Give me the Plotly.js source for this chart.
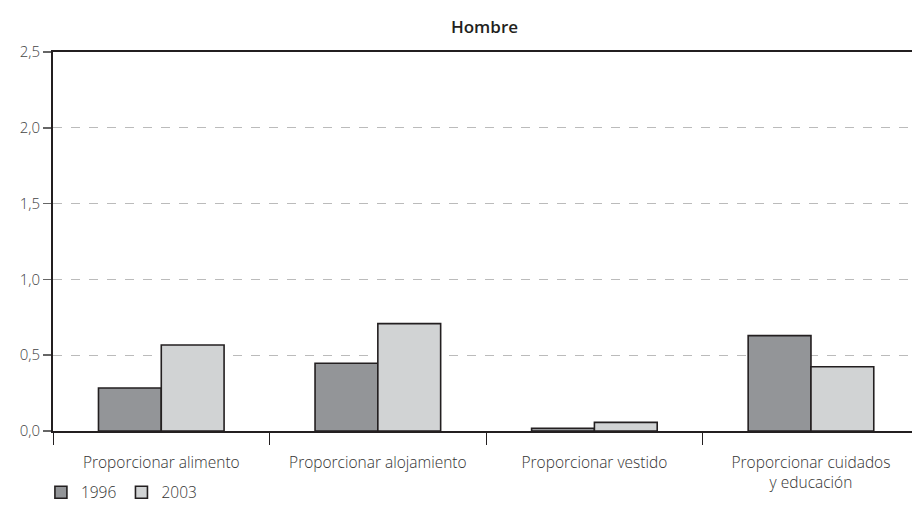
<!DOCTYPE html>
<html>
<head>
<meta charset="utf-8">
<script src="https://cdn.plot.ly/plotly-3.0.1.min.js"></script>
<style>html,body{margin:0;padding:0;background:#fff;overflow:hidden;}#chart{width:916px;height:515px;}</style>
</head>
<body>
<div id="chart"></div>
<script>
const categories = ["Proporcionar alimento", "Proporcionar alojamiento", "Proporcionar vestido", "Proporcionar cuidados<br>y educación"];
const values1996 = [0.284, 0.447, 0.018, 0.629];
const values2003 = [0.567, 0.708, 0.057, 0.424];
const yTicks = [0, 0.5, 1.0, 1.5, 2.0, 2.5];

const fontFam = "Open Sans, sans-serif";
const traces = [
  {type: "bar", name: "1996", x: categories, y: values1996,
   marker: {color: "#939598", line: {color: "#231f20", width: 1.6}}},
  {type: "bar", name: "2003", x: categories, y: values2003,
   marker: {color: "#d1d3d4", line: {color: "#231f20", width: 1.6}}}
];
const layout = {
  width: 916, height: 515,
  margin: {l: 53, r: 0, t: 52, b: 84},
  paper_bgcolor: "#fff", plot_bgcolor: "#fff",
  separators: ",.",
  font: {family: fontFam, size: 15, color: "#333", weight: 300},
  title: {text: "Hombre", xref: "paper", x: 0.5, xanchor: "center", y: 0.947, yanchor: "middle",
          font: {family: fontFam, size: 17, color: "#231f20", weight: 600}},
  barmode: "group", bargap: 0.42, bargroupgap: 0,
  xaxis: {type: "category", range: [-0.5, 3.485], tickson: "boundaries",
          ticks: "outside", ticklen: 12, tickcolor: "#231f20", tickwidth: 1,
          ticklabelstandoff: 16,
          showline: true, linecolor: "#231f20", linewidth: 2, mirror: true,
          showgrid: false, tickfont: {size: 15.5, color: "#333", weight: 300}},
  yaxis: {range: [0, 2.5], tickvals: yTicks, tickformat: ".1f",
          ticks: "outside", ticklen: 8, tickcolor: "#666", tickwidth: 1.5,
          showline: true, linecolor: "#231f20", linewidth: 2,
          showgrid: true, gridcolor: "#bbbbbb", gridwidth: 1.2, griddash: "dash",
          zeroline: false, tickfont: {size: 15, color: "#444", weight: 300}},
  showlegend: true,
  legend: {orientation: "h", x: -0.014, xanchor: "left", y: -0.118, yanchor: "top",
           font: {size: 15.5, color: "#333", weight: 300}, itemwidth: 30, tracegroupgap: 0,
           bgcolor: "rgba(0,0,0,0)"}
};
Plotly.newPlot("chart", traces, layout, {displayModeBar: false, staticPlot: true});
</script>
</body>
</html>
